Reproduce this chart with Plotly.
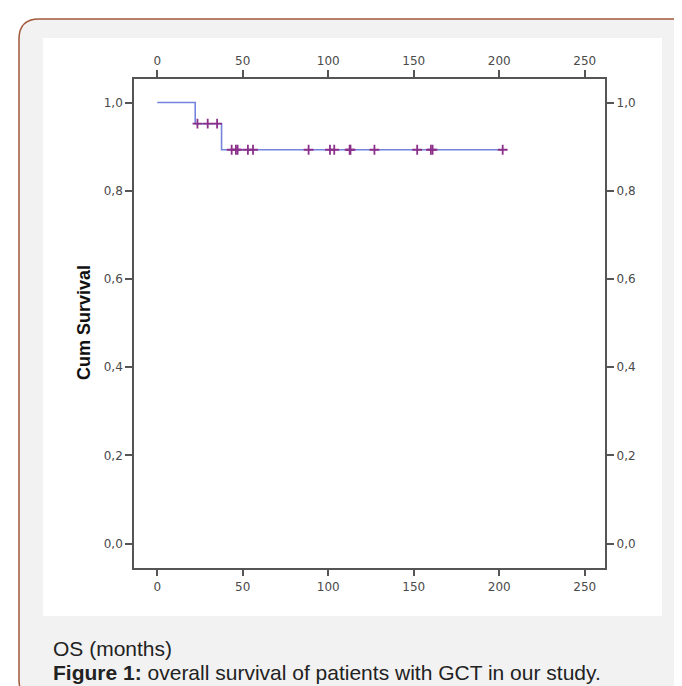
import plotly.graph_objects as go

# ---- data ----
step_times = [0, 22.2, 37.6, 202]
step_surv = [1.0, 0.952, 0.893, 0.893]
censor_times_a = [23.5, 29.5, 35]
censor_level_a = 0.952
censor_times_b = [43.5, 46, 47, 53, 56, 88.5, 101, 103.5, 112.5, 113, 127, 152, 160, 161, 202]
censor_level_b = 0.893
x_ticks = [0, 50, 100, 150, 200, 250]
y_ticks = [0.0, 0.2, 0.4, 0.6, 0.8, 1.0]

W, H = 682, 686
X_RANGE = [-13.6, 262]
Y_RANGE = [-0.054, 1.054]

def px(x):
    return x / W

def py(y):
    return 1 - y / H

def rounded_path(x0, y0, x1, y1, r):
    pts = [
        ("M", [(x0 + r, y0)]),
        ("L", [(x1 - r, y0)]),
        ("Q", [(x1, y0), (x1, y0 + r)]),
        ("L", [(x1, y1 - r)]),
        ("Q", [(x1, y1), (x1 - r, y1)]),
        ("L", [(x0 + r, y1)]),
        ("Q", [(x0, y1), (x0, y1 - r)]),
        ("L", [(x0, y0 + r)]),
        ("Q", [(x0, y0), (x0 + r, y0)]),
    ]
    s = ""
    for cmd, ps in pts:
        s += cmd + " " + " ".join(f"{px(a):.5f},{py(b):.5f}" for a, b in ps) + " "
    return s + "Z"

fig = go.Figure()

fig.add_trace(go.Scatter(
    x=step_times, y=step_surv, mode="lines", line_shape="hv",
    line=dict(color="#7383de", width=1.6), showlegend=False, hoverinfo="skip"))

fig.add_trace(go.Scatter(
    x=censor_times_a + censor_times_b,
    y=[censor_level_a] * len(censor_times_a) + [censor_level_b] * len(censor_times_b),
    mode="markers",
    marker=dict(symbol="cross-thin", size=7, line=dict(color="#8a2f8a", width=1.8)),
    showlegend=False, hoverinfo="skip"))

# invisible trace on the mirrored axes
fig.add_trace(go.Scatter(x=[0], y=[0], xaxis="x2", yaxis="y2", mode="markers",
                         marker=dict(opacity=0), showlegend=False, hoverinfo="skip"))

axis_common = dict(
    showline=True, linecolor="#555555", linewidth=1.6,
    ticks="outside", ticklen=7, tickwidth=1.5, tickcolor="#555555",
    showgrid=False, zeroline=False,
    tickfont=dict(family="DejaVu Sans", size=12, color="#4a4a4a"),
)

dom_x = [px(126), px(597.3)]
dom_y = [py(559.5), py(70.7)]

fig.update_layout(
    width=W, height=H,
    margin=dict(l=0, r=0, t=0, b=0),
    paper_bgcolor="white", plot_bgcolor="white",
    separators=",.",
    xaxis=dict(domain=dom_x, range=X_RANGE, tickvals=x_ticks, anchor="y", **axis_common),
    xaxis2=dict(domain=dom_x, range=X_RANGE, tickvals=x_ticks, overlaying="x", side="top",
                anchor="y", **axis_common),
    yaxis=dict(domain=dom_y, range=Y_RANGE, tickvals=y_ticks, tickformat=".1f", anchor="x",
               **axis_common),
    yaxis2=dict(domain=dom_y, range=Y_RANGE, tickvals=y_ticks, tickformat=".1f",
                overlaying="y", side="right", anchor="x", **axis_common),
    shapes=[
        dict(type="path", xref="paper", yref="paper", layer="below",
             path=rounded_path(11, 11, 690, 692, 20),
             fillcolor="#f2f2f2", line=dict(color="#a3583d", width=1.5)),
        dict(type="rect", xref="paper", yref="paper", layer="below",
             x0=px(35), x1=px(654), y0=py(608), y1=py(30),
             fillcolor="white", line=dict(width=0)),
    ],
    annotations=[
        dict(text="<b>Cum Survival</b>", xref="paper", yref="paper",
             x=px(76), y=(dom_y[0] + dom_y[1]) / 2, textangle=-90,
             showarrow=False, xanchor="center", yanchor="middle",
             font=dict(family="Liberation Sans", size=18, color="#111111")),
        dict(text="OS (months)", xref="paper", yref="paper",
             x=px(43), y=py(640), xanchor="left", yanchor="middle", showarrow=False,
             font=dict(family="Liberation Sans", size=21, color="#222222")),
        dict(text="<b>Figure 1:</b> overall survival of patients with GCT in our study.",
             xref="paper", yref="paper",
             x=px(43), y=py(664), xanchor="left", yanchor="middle", showarrow=False,
             font=dict(family="Liberation Sans", size=21, color="#222222")),
    ],
)

fig.write_html("out.html")
